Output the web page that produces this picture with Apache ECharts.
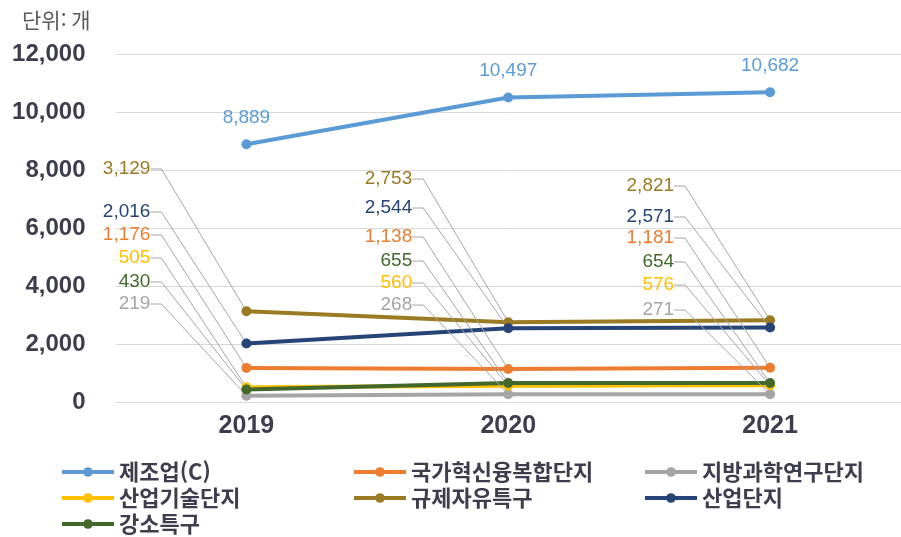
<!DOCTYPE html>
<html lang="ko">
<head>
<meta charset="utf-8">
<title>연도별 현황</title>
<script src="https://cdn.jsdelivr.net/npm/echarts@6/dist/echarts.min.js"></script>
<style>
  html, body { margin: 0; padding: 0; background: #fff; }
  #chart { width: 901px; height: 537px; }
</style>
</head>
<body>
<div id="chart"></div>
<script>
// 데이터 (단위: 개)
const years = ['2019', '2020', '2021'];
const yTicks = [0, 2000, 4000, 6000, 8000, 10000, 12000];

const manufacturing = [8889, 10497, 10682];     // 제조업(C)
const nationalConvergence = [1176, 1138, 1181]; // 국가혁신융복합단지
const regionalScience = [219, 268, 271];        // 지방과학연구단지
const techParks = [505, 560, 576];              // 산업기술단지
const regulationFree = [3129, 2753, 2821];      // 규제자유특구
const industrialComplex = [2016, 2544, 2571];   // 산업단지
const innopolis = [430, 655, 654];              // 강소특구

const NUM_FONT = "'Liberation Sans', Arial, sans-serif";
const KR_FONT = "'Noto Sans CJK KR', sans-serif";
const AXIS_TEXT = '#3d3d4d';

// 왼쪽 위로 빼낸 라벨들의 세로 위치 (px)
const calloutY = {
  '규제자유특구': [169, 179, 186],
  '산업단지': [212, 208, 217],
  '국가혁신융복합단지': [235, 237, 238],
  '산업기술단지': [258, 283, 285],
  '강소특구': [282, 261, 262],
  '지방과학연구단지': [304, 305, 310]
};

const makeSeries = (name, data, color) => {
  const s = {
    name,
    type: 'line',
    data,
    symbol: 'circle',
    symbolSize: 10,
    lineStyle: { width: 4, color },
    itemStyle: { color },
    label: {
      show: true,
      color,
      fontSize: 19,
      fontFamily: NUM_FONT,
      formatter: (p) => p.value.toLocaleString('en-US')
    }
  };
  if (calloutY[name]) {
    s.label.padding = [0, 10, 0, 0];
    s.labelLine = {
      show: true,
      length2: 11,
      smooth: false,
      lineStyle: { color: '#a6a6a6', width: 1 }
    };
    s.labelLayout = (p) => ({
      x: p.rect.x + p.rect.width / 2 - 86,
      y: calloutY[name][p.dataIndex],
      align: 'right',
      verticalAlign: 'middle'
    });
  } else {
    s.label.position = 'top';
    s.label.distance = 12;
  }
  return s;
};

const legendStyle = (left, names) => ({
  orient: 'vertical',
  left,
  top: 461,
  padding: 0,
  itemWidth: 52,
  itemHeight: 12,
  itemGap: 4,
  data: names,
  lineStyle: { width: 4 },
  textStyle: {
    fontSize: 22,
    lineHeight: 22,
    fontWeight: 'bold',
    color: AXIS_TEXT,
    fontFamily: KR_FONT
  }
});

const chart = echarts.init(document.getElementById('chart'));
chart.setOption({
  animation: false,
  backgroundColor: '#fff',
  title: {
    text: '단위: 개',
    left: 22,
    top: 10,
    padding: 0,
    textStyle: { fontSize: 21, fontWeight: 'normal', color: '#5a5a5a', fontFamily: KR_FONT }
  },
  legend: [
    legendStyle(60, ['제조업(C)', '산업기술단지', '강소특구']),
    legendStyle(352, ['국가혁신융복합단지', '규제자유특구']),
    legendStyle(643, ['지방과학연구단지', '산업단지'])
  ],
  grid: { left: 115.5, top: 54, width: 796.5, height: 348 },
  xAxis: {
    type: 'category',
    data: years,
    axisLine: { show: false },
    axisTick: { show: false },
    axisLabel: { fontSize: 25, fontWeight: 'bold', color: AXIS_TEXT, fontFamily: NUM_FONT, margin: 12 }
  },
  yAxis: {
    type: 'value',
    min: yTicks[0],
    max: yTicks[yTicks.length - 1],
    interval: yTicks[1] - yTicks[0],
    splitLine: { lineStyle: { color: '#d9d9d9', width: 1 } },
    axisLabel: {
      fontSize: 24,
      fontWeight: 'bold',
      color: AXIS_TEXT,
      fontFamily: NUM_FONT,
      margin: 30,
      formatter: (v) => v.toLocaleString('en-US')
    }
  },
  series: [
    makeSeries('제조업(C)', manufacturing, '#5b9bd5'),
    makeSeries('국가혁신융복합단지', nationalConvergence, '#ed7d31'),
    makeSeries('지방과학연구단지', regionalScience, '#a5a5a5'),
    makeSeries('산업기술단지', techParks, '#ffc000'),
    makeSeries('규제자유특구', regulationFree, '#9a7a22'),
    makeSeries('산업단지', industrialComplex, '#264478'),
    makeSeries('강소특구', innopolis, '#43682b')
  ]
});

window.addEventListener('resize', () => chart.resize());
</script>
</body>
</html>
